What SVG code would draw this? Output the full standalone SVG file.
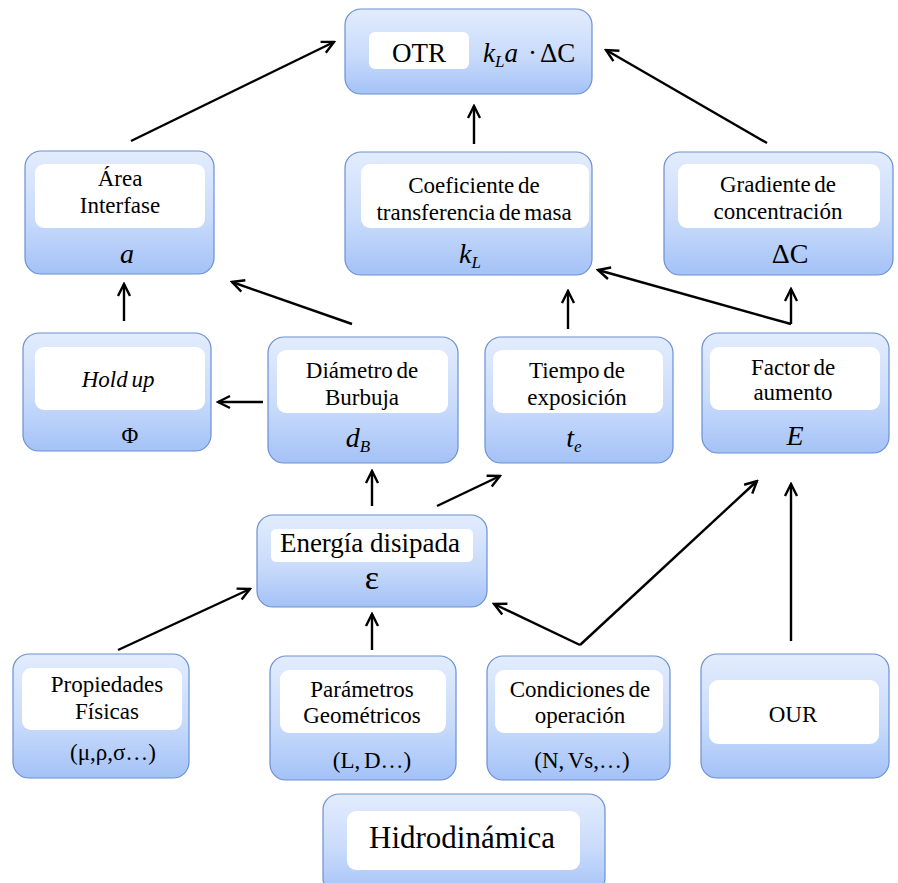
<svg xmlns="http://www.w3.org/2000/svg" width="898" height="883" viewBox="0 0 898 883" font-family="'Liberation Serif', 'Times New Roman', serif">
  <defs>
    <linearGradient id="boxFill" x1="0" y1="0" x2="0" y2="1">
      <stop offset="0" stop-color="#e2ecfd"/>
      <stop offset="0.55" stop-color="#c9dbfb"/>
      <stop offset="1" stop-color="#a4c2f7"/>
    </linearGradient>
    <marker id="arrow" markerUnits="userSpaceOnUse" markerWidth="16" markerHeight="16" viewBox="0 0 16 16" refX="14" refY="8" orient="auto">
      <path d="M2,2 L14,8 L2,14" fill="none" stroke="#000" stroke-width="2.4" stroke-linejoin="miter"/>
    </marker>
  </defs>
  <style>
    .box { fill: url(#boxFill); stroke: #6b90d2; stroke-width: 1.2; }
    .inner { fill: #ffffff; }
    text { font-family: 'Liberation Serif', 'Times New Roman', serif; fill: #000; text-anchor: middle; }
    .lbl { font-size: 23px; word-spacing: -2px; }
    .var { font-size: 28px; font-style: italic; }
    .sub { font-size: 17px; font-style: italic; }
    .up { font-size: 28px; }
    .formula { font-size: 27px; text-anchor: start; }
    .edge { stroke: #000; stroke-width: 2.4; fill: none; marker-end: url(#arrow); }
  </style>

  <rect width="898" height="883" fill="#ffffff"/>

  <!-- connectors -->
  <g id="connectors">
    <line class="edge" x1="131" y1="141" x2="334" y2="42"/>
    <line class="edge" x1="474" y1="144" x2="474" y2="106"/>
    <line class="edge" x1="767" y1="143" x2="606" y2="50"/>
    <line class="edge" x1="124" y1="321" x2="124" y2="284"/>
    <line class="edge" x1="352" y1="324" x2="232" y2="282"/>
    <line class="edge" x1="263" y1="402" x2="218" y2="402"/>
    <line class="edge" x1="568" y1="329" x2="568" y2="291"/>
    <line class="edge" x1="791" y1="324" x2="598" y2="270"/>
    <line class="edge" x1="791" y1="324" x2="791" y2="289"/>
    <line class="edge" x1="372" y1="506" x2="372" y2="471"/>
    <line class="edge" x1="437" y1="506" x2="500" y2="476"/>
    <line class="edge" x1="118" y1="650" x2="250" y2="589"/>
    <line class="edge" x1="372" y1="650" x2="372" y2="614"/>
    <line class="edge" x1="580" y1="645" x2="494" y2="604"/>
    <line class="edge" x1="580" y1="645" x2="757" y2="481"/>
    <line class="edge" x1="791" y1="641" x2="791" y2="484"/>
  </g>

  <!-- top: oxygen transfer rate -->
  <g id="otr">
    <rect class="box" x="345" y="9" width="247" height="85" rx="16"/>
    <rect class="inner" x="369" y="32" width="100" height="37" rx="6"/>
    <text x="419" y="62" font-size="27">OTR</text>
    <text class="formula" x="483" y="62"><tspan font-style="italic">k</tspan><tspan font-size="17" font-style="italic" dy="5">L</tspan><tspan font-style="italic" dy="-5">a</tspan><tspan x="528">·</tspan><tspan x="540">ΔC</tspan></text>
  </g>

  <g id="area">
    <rect class="box" x="25" y="151" width="189" height="123" rx="16"/>
    <rect class="inner" x="35" y="164" width="170" height="64" rx="9"/>
    <text class="lbl" x="120" y="186">Área</text>
    <text class="lbl" x="120" y="213">Interfase</text>
    <text class="var" x="127" y="263">a</text>
  </g>

  <g id="kl">
    <rect class="box" x="345" y="152" width="247" height="123" rx="16"/>
    <rect class="inner" x="361" y="164" width="228" height="64" rx="9"/>
    <text class="lbl" x="474" y="193">Coeficiente de</text>
    <text class="lbl" x="474" y="220">transferencia de masa</text>
    <text x="470" y="263" font-size="28" font-style="italic">k<tspan class="sub" dy="5">L</tspan></text>
  </g>

  <g id="gradiente">
    <rect class="box" x="664" y="152" width="229" height="123" rx="16"/>
    <rect class="inner" x="678" y="164" width="202" height="64" rx="9"/>
    <text class="lbl" x="778" y="192">Gradiente de</text>
    <text class="lbl" x="778" y="219">concentración</text>
    <text class="up" x="790" y="263">ΔC</text>
  </g>

  <g id="holdup">
    <rect class="box" x="23" y="333" width="188" height="118" rx="16"/>
    <rect class="inner" x="35" y="347" width="170" height="63" rx="9"/>
    <text class="lbl" x="118" y="387" font-style="italic">Hold up</text>
    <text x="130" y="443" font-size="23">Φ</text>
  </g>

  <g id="diametro">
    <rect class="box" x="268" y="337" width="190" height="126" rx="16"/>
    <rect class="inner" x="277" y="350" width="171" height="63" rx="9"/>
    <text class="lbl" x="362" y="378">Diámetro de</text>
    <text class="lbl" x="362" y="405">Burbuja</text>
    <text x="358" y="447" font-size="28" font-style="italic">d<tspan class="sub" dy="5">B</tspan></text>
  </g>

  <g id="tiempo">
    <rect class="box" x="485" y="337" width="188" height="126" rx="16"/>
    <rect class="inner" x="493" y="350" width="170" height="63" rx="9"/>
    <text class="lbl" x="577" y="378">Tiempo de</text>
    <text class="lbl" x="577" y="405">exposición</text>
    <text x="574" y="447" font-size="28" font-style="italic">t<tspan class="sub" dy="5">e</tspan></text>
  </g>

  <g id="factor">
    <rect class="box" x="702" y="333" width="187" height="120" rx="16"/>
    <rect class="inner" x="710" y="347" width="170" height="63" rx="9"/>
    <text class="lbl" x="793" y="375">Factor de</text>
    <text class="lbl" x="793" y="400">aumento</text>
    <text class="var" x="795" y="445">E</text>
  </g>

  <g id="energia">
    <rect class="box" x="257" y="515" width="230" height="92" rx="16"/>
    <rect class="inner" x="271" y="529" width="202" height="33" rx="5"/>
    <text x="370" y="552" font-size="27">Energía disipada</text>
    <text x="372" y="589" font-size="34">ε</text>
  </g>

  <g id="propiedades">
    <rect class="box" x="13" y="654" width="176" height="124" rx="16"/>
    <rect class="inner" x="22" y="668" width="160" height="62" rx="9"/>
    <text class="lbl" x="107" y="692">Propiedades</text>
    <text class="lbl" x="107" y="719">Físicas</text>
    <text class="lbl" x="113" y="760">(μ,ρ,σ…)</text>
  </g>

  <g id="parametros">
    <rect class="box" x="270" y="656" width="186" height="124" rx="16"/>
    <rect class="inner" x="280" y="670" width="166" height="63" rx="9"/>
    <text class="lbl" x="362" y="697">Parámetros</text>
    <text class="lbl" x="362" y="723">Geométricos</text>
    <text class="lbl" x="372" y="768">(L, D…)</text>
  </g>

  <g id="condiciones">
    <rect class="box" x="487" y="656" width="183" height="124" rx="16"/>
    <rect class="inner" x="495" y="670" width="168" height="63" rx="9"/>
    <text class="lbl" x="580" y="697">Condiciones de</text>
    <text class="lbl" x="580" y="723">operación</text>
    <text class="lbl" x="582" y="768">(N, Vs,…)</text>
  </g>

  <g id="our">
    <rect class="box" x="701" y="654" width="188" height="124" rx="16"/>
    <rect class="inner" x="709" y="680" width="170" height="64" rx="9"/>
    <text class="lbl" x="793" y="722">OUR</text>
  </g>

  <g id="hidrodinamica">
    <rect class="box" x="323" y="794" width="282" height="100" rx="16"/>
    <rect class="inner" x="347" y="811" width="233" height="59" rx="9"/>
    <text x="462" y="848" font-size="31">Hidrodinámica</text>
  </g>
</svg>
